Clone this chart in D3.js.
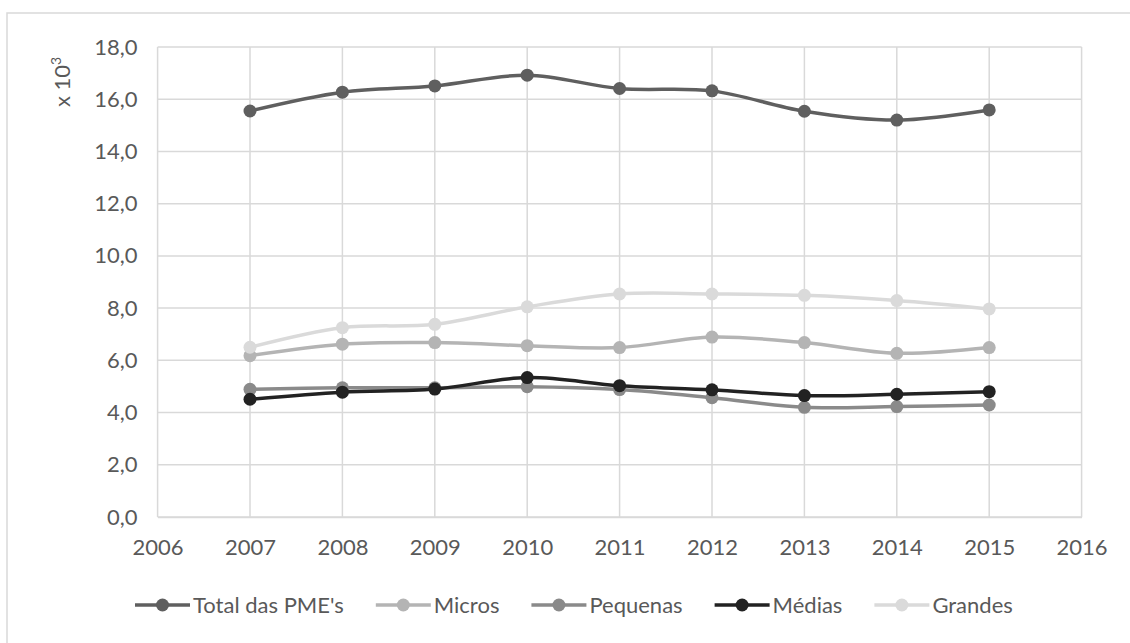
<!DOCTYPE html>
<html>
<head>
<meta charset="utf-8">
<script src="https://cdn.jsdelivr.net/npm/d3@7"></script>
<style>
  body { margin: 0; background: #fff; }
  svg { display: block; font-family: Lato, "Open Sans", sans-serif; }
</style>
</head>
<body>
<svg id="chart" width="1130" height="643"></svg>
<script>
// data (values x 10^3)
const years = [2007, 2008, 2009, 2010, 2011, 2012, 2013, 2014, 2015];
const total = [15.55, 16.27, 16.51, 16.92, 16.41, 16.32, 15.54, 15.20, 15.59];
const micros = [6.18, 6.62, 6.68, 6.56, 6.49, 6.89, 6.68, 6.27, 6.49];
const pequenas = [4.89, 4.95, 4.95, 4.99, 4.88, 4.57, 4.20, 4.23, 4.29];
const medias = [4.51, 4.78, 4.90, 5.34, 5.03, 4.87, 4.65, 4.70, 4.80];
const grandes = [6.50, 7.25, 7.38, 8.05, 8.54, 8.54, 8.49, 8.29, 7.97];
const xTicks = d3.range(2006, 2017);
const yTicks = d3.range(0, 19, 2);

const series = [
  {name: "Total das PME's", values: total, color: '#5f5f5f'},
  {name: 'Micros', values: micros, color: '#b4b4b4'},
  {name: 'Pequenas', values: pequenas, color: '#8a8a8a'},
  {name: 'Médias', values: medias, color: '#222222'},
  {name: 'Grandes', values: grandes, color: '#dadada'},
];

const svg = d3.select('#chart');
const plot = {left: 157.6, right: 1081.6, top: 47, bottom: 517};
const fontSize = 22;

// chart frame
svg.append('rect')
    .attr('x', 7).attr('y', 13)
    .attr('width', 1140).attr('height', 660)
    .attr('fill', 'none')
    .attr('stroke', '#d9d9d9')
    .attr('stroke-width', 1.5);

const x = d3.scaleLinear().domain([2006, 2016]).range([plot.left, plot.right]);
const y = d3.scaleLinear().domain([0, 18]).range([plot.bottom, plot.top]);

// gridlines
svg.append('g')
    .selectAll('line')
    .data(yTicks)
    .enter()
    .append('line')
    .attr('x1', plot.left).attr('x2', plot.right)
    .attr('y1', d => y(d)).attr('y2', d => y(d))
    .attr('stroke', '#d9d9d9')
    .attr('stroke-width', 1.5);

svg.append('g')
    .selectAll('line')
    .data(xTicks)
    .enter()
    .append('line')
    .attr('x1', d => x(d)).attr('x2', d => x(d))
    .attr('y1', plot.top).attr('y2', plot.bottom)
    .attr('stroke', '#d9d9d9')
    .attr('stroke-width', 1.5);

// axes
const yAxis = svg.append('g')
    .attr('transform', 'translate(' + plot.left + ',0)')
    .call(d3.axisLeft(y).tickValues(yTicks).tickSize(0).tickPadding(20)
        .tickFormat(d => d3.format('.1f')(d).replace('.', ',')));
yAxis.select('.domain').remove();
yAxis.selectAll('text').attr('font-size', fontSize).attr('fill', '#595959')
    .attr('font-family', 'Lato, sans-serif');

const xAxis = svg.append('g')
    .attr('transform', 'translate(0,' + plot.bottom + ')')
    .call(d3.axisBottom(x).tickValues(xTicks).tickSize(0).tickPadding(22)
        .tickFormat(d3.format('d')));
xAxis.select('.domain').attr('stroke', '#d9d9d9').attr('stroke-width', 1.5);
xAxis.selectAll('text').attr('font-size', fontSize).attr('fill', '#595959')
    .attr('font-family', 'Lato, sans-serif');

// axis title
const yt = svg.append('text')
    .attr('transform', 'translate(70,82) rotate(-90)')
    .attr('text-anchor', 'middle')
    .attr('font-size', fontSize)
    .attr('fill', '#595959');
yt.append('tspan').text('x 10');
yt.append('tspan').attr('dy', -9).attr('font-size', 14).text('3');

// lines and markers
const line = d3.line()
    .x((d, i) => x(years[i]))
    .y(d => y(d))
    .curve(d3.curveCatmullRom.alpha(0.5));

series.forEach(s => {
  const g = svg.append('g');
  g.append('path')
      .datum(s.values)
      .attr('d', line)
      .attr('fill', 'none')
      .attr('stroke', s.color)
      .attr('stroke-width', 3.5);
  g.selectAll('circle')
      .data(s.values)
      .enter()
      .append('circle')
      .attr('cx', (d, i) => x(years[i]))
      .attr('cy', d => y(d))
      .attr('r', 6.5)
      .attr('fill', s.color);
});

// legend
const legend = svg.append('g').attr('transform', 'translate(135,605)');
let lx = 0;
series.forEach(s => {
  const item = legend.append('g').attr('transform', 'translate(' + lx + ',0)');
  item.append('line')
      .attr('x1', 0).attr('x2', 55)
      .attr('stroke', s.color).attr('stroke-width', 3.5);
  item.append('circle').attr('cx', 27.5).attr('r', 6.5).attr('fill', s.color);
  const t = item.append('text')
      .attr('x', 58).attr('dy', '0.35em')
      .attr('font-size', fontSize).attr('fill', '#595959')
      .text(s.name);
  lx += 58 + t.node().getComputedTextLength() + 32;
});
</script>
</body>
</html>
